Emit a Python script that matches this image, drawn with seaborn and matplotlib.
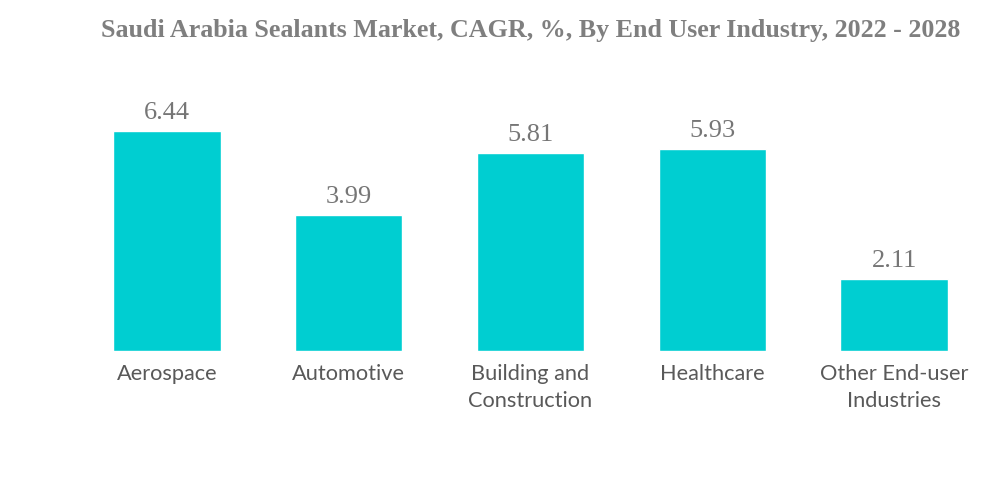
import matplotlib
matplotlib.use("Agg")
import matplotlib.pyplot as plt
import seaborn as sns
import pandas as pd

# data
industries = ["Aerospace", "Automotive", "Building and\nConstruction", "Healthcare", "Other End-user\nIndustries"]
cagr = [6.44, 3.99, 5.81, 5.93, 2.11]

df = pd.DataFrame({"industry": industries, "cagr": cagr})

sns.set_style("white")
fig = plt.figure(figsize=(10, 4.83), dpi=100)
ax = fig.add_axes([0.076, 0.273, 0.909, 0.495])

sns.barplot(data=df, x="industry", y="cagr", color="#00CED1", saturation=1,
            width=0.59, ax=ax)

for i, v in enumerate(cagr):
    ax.text(i, v + 0.2, f"{v:.2f}", ha="center", va="bottom",
            fontsize=19, color="#767676", family="Liberation Serif")

ax.set_ylim(0, 7)
ax.set_xlim(-0.5, 4.5)
ax.set_xlabel("")
ax.set_ylabel("")
ax.set_yticks([])
ax.tick_params(axis="x", length=0, pad=9)
for lbl in ax.get_xticklabels():
    lbl.set_fontsize(15.7)
    lbl.set_color("#595959")
    lbl.set_family("Lato")
    lbl.set_linespacing(1.45)
sns.despine(ax=ax, left=True, bottom=True)

fig.text(0.531, 0.937, "Saudi Arabia Sealants Market, CAGR, %, By End User Industry, 2022 - 2028",
         ha="center", va="center", fontsize=18.7, fontweight="bold",
         color="#7f7f7f", family="Liberation Serif")

fig.savefig("out.png", dpi=100)
